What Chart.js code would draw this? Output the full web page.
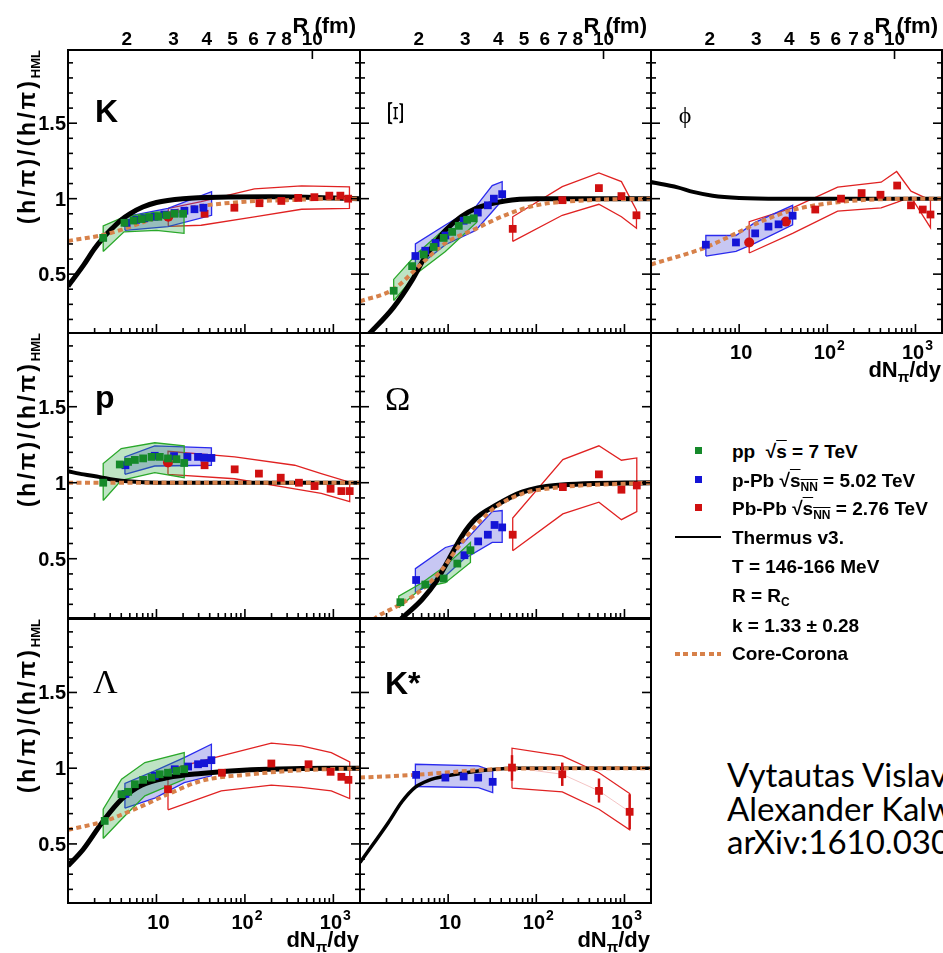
<!DOCTYPE html>
<html>
<head>
<meta charset="utf-8">
<title>h/pi double ratios vs dN/dy</title>
<script src="https://cdn.jsdelivr.net/npm/chart.js@4.4.1/dist/chart.umd.min.js"></script>
<style>
html,body{margin:0;padding:0;background:#fff;}
#wrap{position:relative;width:943px;height:953px;overflow:hidden;background:#fff;font-family:"Liberation Sans",Arial,sans-serif;color:#000;}
#wrap canvas{position:absolute;}
.ytitle{position:absolute;left:14px;width:230px;height:26px;text-align:right;font-weight:bold;font-size:23px;line-height:26px;letter-spacing:3px;white-space:nowrap;transform-origin:0 0;transform:rotate(-90deg);}
.ytitle sub{font-size:13px;letter-spacing:0;vertical-align:-5px;}
.plab{position:absolute;line-height:1;white-space:nowrap;}
.sans{font-family:"Liberation Sans",Arial,sans-serif;font-weight:bold;font-size:32px;}
.serif{font-family:"Liberation Serif","DejaVu Serif",serif;}
.leg{position:absolute;left:732px;font-weight:bold;font-size:19px;line-height:1;white-space:nowrap;}
.leg sub{font-size:12px;vertical-align:-4px;}
.ov{text-decoration:overline;}
.mk{position:absolute;width:7px;height:7px;}
.authors{position:absolute;left:727px;top:758px;font-family:Lato,"Open Sans",sans-serif;font-size:33px;line-height:33.5px;white-space:nowrap;}
</style>
</head>
<body>
<div id="wrap">

<div class="ytitle" style="top:280px">(h/π)/(h/π)<sub>HML</sub></div>
<div class="ytitle" style="top:563px">(h/π)/(h/π)<sub>HML</sub></div>
<div class="ytitle" style="top:849px">(h/π)/(h/π)<sub>HML</sub></div>

<div class="plab sans" style="left:95px;top:95px">K</div>
<div class="plab serif" style="left:375px;top:93px;width:40px;height:40px;line-height:40px;text-align:center;font-size:23px;transform:rotate(90deg) scaleX(1.8)">Ξ</div>
<div class="plab serif" style="left:665px;top:95px;width:40px;line-height:40px;text-align:center;font-size:24px">ϕ</div>
<div class="plab sans" style="left:95px;top:381px">p</div>
<div class="plab serif" style="left:385px;top:382px;font-size:34px">Ω</div>
<div class="plab serif" style="left:93px;top:665px;font-size:34px">Λ</div>
<div class="plab sans" style="left:385px;top:667px">K*</div>

<div class="mk" style="left:695px;top:447px;background:#15892a"></div>
<div class="mk" style="left:695px;top:476px;background:#1414d6"></div>
<div class="mk" style="left:695px;top:504px;background:#d01010"></div>
<div style="position:absolute;left:675px;top:536px;width:46px;height:2px;background:#000"></div>
<div style="position:absolute;left:675px;top:652px;width:46px;height:3.5px;background:repeating-linear-gradient(90deg,#d7814a 0 5px,transparent 5px 8.5px)"></div>
<div class="leg" style="top:442px">pp&nbsp; √<span class="ov">s</span> = 7 TeV</div>
<div class="leg" style="top:471px">p-Pb √<span class="ov">s<sub>NN</sub></span> = 5.02 TeV</div>
<div class="leg" style="top:499px">Pb-Pb √<span class="ov">s<sub>NN</sub></span> = 2.76 TeV</div>
<div class="leg" style="top:528px">Thermus v3.</div>
<div class="leg" style="top:557px">T = 146-166 MeV</div>
<div class="leg" style="top:586px">R = R<sub>C</sub></div>
<div class="leg" style="top:616px">k = 1.33 ± 0.28</div>
<div class="leg" style="top:644px">Core-Corona</div>

<div class="authors">Vytautas Vislavicius<br>Alexander Kalweit<br>arXiv:1610.03001</div>

</div>
<script>
// axis ranges and ticks
const X_MIN = 1, X_MAX = 2000;
const Y_MIN = 0.11, Y_MAX = 1.985;
const yTickLabels = [0.5, 1, 1.5];
const xTickValues = [10, 100, 1000];
const xTickBase = ['10', '10', '10'];
const xTickExp = ['', '2', '3'];
const rTicks = [2, 3, 4, 5, 6, 7, 8, 10];
const R_SCALE = 1.2; // R = R_SCALE * (dN/dy)^(1/3)

// ---- K ----
const kThermusX = [1, 1.5, 2, 2.5, 3, 4, 5, 7, 10, 20, 50, 200, 1000, 2000];
const kThermusY = [0.42, 0.56, 0.67, 0.74, 0.79, 0.86, 0.9, 0.945, 0.975, 1.0, 1.01, 1.012, 1.005, 1.0];
const kCoreX = [1, 2.5, 4.3, 9.5, 20, 100, 300, 1000, 2000];
const kCoreY = [0.72, 0.76, 0.8, 0.87, 0.93, 0.98, 0.99, 1.0, 1.0];
const kPpX = [2.5, 4.35, 5.5, 6.8, 8.3, 10.5, 13, 16, 20];
const kPpY = [0.74, 0.84, 0.855, 0.865, 0.875, 0.88, 0.89, 0.9, 0.9];
const kPpBandX = [2.5, 4.3, 10, 20.5];
const kPpBandLo = [0.65, 0.78, 0.79, 0.77];
const kPpBandHi = [0.82, 0.88, 0.91, 0.915];
const kPpbX = [4.6, 5.9, 7.3, 9.5, 12.3, 16, 20.7, 26.9, 34];
const kPpbY = [0.84, 0.86, 0.87, 0.88, 0.895, 0.905, 0.92, 0.93, 0.94];
const kPpbBandX = [4.4, 13.5, 42];
const kPpbBandLo = [0.79, 0.815, 0.89];
const kPpbBandHi = [0.88, 0.935, 1.046];
const kPbX = [35, 76, 146, 258, 400, 610, 900, 1200, 1470];
const kPbY = [0.9, 0.94, 0.97, 0.985, 1.005, 1.01, 1.02, 1.02, 1.0];
const kPbCircX = [13.6];
const kPbCircY = [0.88];
const kPbBandX = [13.6, 32, 128, 437, 1520];
const kPbBandLo = [0.817, 0.824, 0.88, 0.93, 0.935];
const kPbBandHi = [0.935, 0.98, 1.065, 1.085, 1.078];

// ---- Xi ----
const xiThermusX = [1, 1.25, 2.4, 3.9, 5.3, 7.2, 9.3, 14, 20.5, 44, 100, 2000];
const xiThermusY = [0.04, 0.1, 0.28, 0.46, 0.6, 0.71, 0.79, 0.88, 0.935, 0.985, 1.0, 1.0];
const xiCoreX = [1, 2.4, 4.9, 9.3, 20.5, 44, 100, 393, 2000];
const xiCoreY = [0.32, 0.4, 0.565, 0.706, 0.8, 0.89, 0.956, 0.99, 1.0];
const xiPpX = [2.41, 3.9, 5.3, 6.85, 8.9, 11.1, 13.2, 16.4, 19.5];
const xiPpY = [0.39, 0.553, 0.63, 0.68, 0.74, 0.78, 0.82, 0.86, 0.87];
const xiPpBandX = [2.41, 4.5, 9.3, 21];
const xiPpBandLo = [0.325, 0.51, 0.65, 0.843];
const xiPpBandHi = [0.465, 0.64, 0.804, 0.935];
const xiPpbX = [4.25, 5.5, 7.2, 9.3, 15, 21.7, 28.2, 33, 41];
const xiPpbY = [0.62, 0.655, 0.706, 0.756, 0.854, 0.908, 0.956, 1.0, 1.03];
const xiPpbBandX = [4.25, 9.3, 20.5, 31.6, 41];
const xiPpbBandLo = [0.538, 0.695, 0.79, 0.913, 0.99];
const xiPpbBandHi = [0.7, 0.826, 0.946, 1.087, 1.113];
const xiPbX = [54, 197, 513, 924, 1368];
const xiPbY = [0.8, 0.99, 1.07, 1.017, 0.89];
const xiPbBandX = [54, 197, 513, 924, 1368];
const xiPbBandLo = [0.717, 0.89, 0.963, 0.88, 0.804];
const xiPbBandHi = [0.88, 1.08, 1.17, 1.113, 0.924];

// ---- phi ----
const phiThermusX = [1, 2, 3, 5, 10, 30, 2000];
const phiThermusY = [1.11, 1.075, 1.045, 1.02, 1.005, 1.0, 1.0];
const phiCoreX = [1, 4.19, 9.2, 19.3, 40.4, 96.5, 400, 2000];
const phiCoreY = [0.564, 0.678, 0.77, 0.858, 0.924, 0.967, 0.996, 1.0];
const phiPpbX = [4.19, 9.2, 15.2, 21.5, 28, 40.4];
const phiPpbY = [0.695, 0.71, 0.77, 0.815, 0.83, 0.887];
const phiPpbBandX = [4.19, 9.2, 15.2, 40.4];
const phiPpbBandLo = [0.62, 0.651, 0.706, 0.826];
const phiPpbBandHi = [0.756, 0.756, 0.843, 0.956];
const phiPbX = [73, 143, 245, 401, 620, 890, 1210, 1480];
const phiPbY = [0.928, 1.0, 1.037, 1.026, 1.087, 0.956, 0.928, 0.895];
const phiPbCircX = [13, 33.9];
const phiPbCircY = [0.71, 0.848];
const phiPbBandX = [13, 40.4, 131, 408, 612, 890, 1480];
const phiPbBandLo = [0.64, 0.77, 0.917, 0.939, 0.975, 1.011, 0.808];
const phiPbBandHi = [0.848, 0.939, 1.076, 1.109, 1.18, 1.05, 0.99];

// ---- p ----
const pThermusX = [1, 1.5, 2.3, 3.3, 4.7, 10, 2000];
const pThermusY = [1.075, 1.055, 1.037, 1.02, 1.009, 1.0, 1.0];
const pCoreX = [1, 10, 100, 2000];
const pCoreY = [1.0, 1.0, 1.0, 1.0];
const pPpX = [2.5, 3.85, 4.78, 5.7, 7.07, 8.8, 10.9, 13.5, 16.8, 20.6];
const pPpY = [1.0, 1.12, 1.137, 1.15, 1.16, 1.17, 1.17, 1.16, 1.155, 1.13];
const pPpBandX = [2.5, 4.0, 9.56, 20.6];
const pPpBandLo = [0.883, 1.016, 1.066, 1.033];
const pPpBandHi = [1.126, 1.225, 1.263, 1.243];
const pPpbX = [4.46, 9.56, 15.8, 22.4, 29.5, 34.6, 41.8];
const pPpbY = [1.115, 1.177, 1.175, 1.17, 1.17, 1.165, 1.163];
const pPpbBandX = [4.4, 9.56, 41.8];
const pPpbBandLo = [1.055, 1.11, 1.115];
const pPpbBandHi = [1.17, 1.243, 1.23];
const pPbX = [35, 76.6, 144, 254, 408, 613, 930, 1232, 1530];
const pPbY = [1.115, 1.088, 1.06, 1.033, 1.0, 0.978, 0.96, 0.945, 0.945];
const pPbCircX = [13.5];
const pPbCircY = [1.133];
const pPbBandX = [13.5, 76.6, 365, 730, 1530];
const pPbBandLo = [1.055, 1.026, 0.96, 0.93, 0.876];
const pPbBandHi = [1.207, 1.17, 1.115, 1.06, 1.004];

// ---- Omega ----
const omThermusX = [2.4, 2.87, 5.06, 7.17, 10.2, 14.4, 20.4, 34.5, 69, 165, 2000];
const omThermusY = [0.06, 0.1, 0.232, 0.342, 0.497, 0.651, 0.762, 0.85, 0.938, 0.982, 1.0];
const omCoreX = [1.2, 1.49, 2.87, 5.06, 8.55, 12.1, 22.3, 34.5, 69, 165, 2000];
const omCoreY = [0.06, 0.11, 0.2, 0.298, 0.43, 0.552, 0.74, 0.84, 0.927, 0.967, 1.0];
const omPpX = [2.87, 5.5, 8.9, 12.7, 17.9];
const omPpY = [0.214, 0.33, 0.37, 0.468, 0.556];
const omPpBandX = [2.75, 5.06, 9.3, 17.9];
const omPpBandLo = [0.177, 0.31, 0.342, 0.475];
const omPpBandHi = [0.254, 0.342, 0.452, 0.607];
const omPpbX = [4.33, 15.3, 21.9, 28.2, 33.6, 41];
const omPpbY = [0.36, 0.523, 0.614, 0.658, 0.722, 0.706];
const omPpbBandX = [4.25, 9.3, 15, 31.6, 41];
const omPpbBandLo = [0.276, 0.386, 0.497, 0.607, 0.607];
const omPpbBandHi = [0.435, 0.574, 0.607, 0.81, 0.817];
const omPbX = [54, 200, 513, 924, 1380];
const omPbY = [0.658, 0.971, 1.055, 0.954, 0.982];
const omPbBandX = [54, 200, 513, 924, 1380];
const omPbBandLo = [0.552, 0.795, 0.872, 0.757, 0.81];
const omPbBandHi = [0.768, 1.152, 1.243, 1.148, 1.163];

// ---- Lambda ----
const laThermusX = [1, 1.49, 2.5, 4.03, 6.77, 13.5, 32, 118, 436, 1030, 2000];
const laThermusY = [0.355, 0.465, 0.652, 0.795, 0.888, 0.938, 0.965, 0.99, 0.998, 1.0, 1.0];
const laCoreX = [1, 2.5, 5.7, 13.5, 32, 118, 436, 2000];
const laCoreY = [0.593, 0.648, 0.73, 0.828, 0.916, 0.96, 0.987, 0.998];
const laPpX = [2.6, 4.03, 4.79, 5.7, 7.07, 8.8, 10.9, 13.5, 16.8, 20.6];
const laPpY = [0.652, 0.828, 0.844, 0.894, 0.923, 0.938, 0.96, 0.97, 0.982, 0.993];
const laPpBandX = [2.5, 4.03, 7.4, 20.6];
const laPpBandLo = [0.536, 0.663, 0.817, 0.927];
const laPpBandHi = [0.73, 0.927, 1.037, 1.103];
const laPpbX = [4.46, 9.56, 16.1, 22.8, 29.5, 34.6, 41.8];
const laPpbY = [0.83, 0.95, 0.993, 1.011, 1.026, 1.033, 1.053];
const laPpbBandX = [4.4, 9.56, 20.6, 41.8];
const laPpbBandLo = [0.736, 0.802, 0.905, 0.95];
const laPpbBandHi = [0.9, 0.982, 1.07, 1.158];
const laPbX = [13.5, 55, 199, 524, 930, 1232, 1480];
const laPbY = [0.861, 0.97, 1.031, 1.026, 0.976, 0.943, 0.923];
const laPbBandX = [13.5, 54, 199, 436, 947, 1530];
const laPbBandLo = [0.725, 0.85, 0.888, 0.873, 0.85, 0.8];
const laPbBandHi = [0.989, 1.081, 1.165, 1.147, 1.103, 1.042];

// ---- K* ----
const ksThermusX = [1, 2.1, 3, 4.25, 6, 9.3, 22, 53, 2000];
const ksThermusY = [0.377, 0.642, 0.78, 0.875, 0.92, 0.948, 0.982, 1.0, 1.0];
const ksCoreX = [1, 4.25, 22, 60, 2000];
const ksCoreY = [0.938, 0.956, 0.987, 0.998, 1.0];
const ksPpbX = [4.33, 9.3, 15, 21.9, 32];
const ksPpbY = [0.956, 0.938, 0.945, 0.938, 0.91];
const ksPpbBandX = [4.25, 22, 32];
const ksPpbBandLo = [0.879, 0.872, 0.839];
const ksPpbBandHi = [1.026, 1.015, 0.982];
const ksPbX = [53, 197, 514, 1145];
const ksPbY = [1.004, 0.96, 0.85, 0.712];
const ksPbErrLo = [0.917, 0.883, 0.773, 0.597];
const ksPbErrHi = [1.086, 1.037, 0.932, 0.828];
const ksPbBandX = [53, 197, 514, 1145];
const ksPbBandLo = [0.868, 0.844, 0.729, 0.593];
const ksPbBandHi = [1.132, 1.081, 0.97, 0.833];

// colours
const C_PP = '#15892a', C_PPB = '#1414d6', C_PB = '#d01010', C_CORE = '#d7814a';
const L_PP = '#2aa82a', L_PPB = '#2a2aee', L_PB = '#e02222';
const F_PP = 'rgba(40,165,60,0.3)', F_PPB = 'rgba(70,70,215,0.3)';

// panel boxes
const COL_LEFT = [68, 360, 651], COL_RIGHT = [360, 651, 942];
const ROW_TOP = [50, 333, 619], ROW_BOTTOM = [333, 618, 903];
const M = 60;

const panels = [
  {col: 0, row: 0, yLabels: true, rAxis: true, tw: 5,
   thermus: [kThermusX, kThermusY], core: [kCoreX, kCoreY],
   pp: [kPpX, kPpY], ppBand: [kPpBandX, kPpBandLo, kPpBandHi],
   ppb: [kPpbX, kPpbY], ppbBand: [kPpbBandX, kPpbBandLo, kPpbBandHi],
   pb: [kPbX, kPbY], pbCirc: [kPbCircX, kPbCircY], pbBand: [kPbBandX, kPbBandLo, kPbBandHi]},
  {col: 1, row: 0, rAxis: true, tw: 5,
   thermus: [xiThermusX, xiThermusY], core: [xiCoreX, xiCoreY],
   pp: [xiPpX, xiPpY], ppBand: [xiPpBandX, xiPpBandLo, xiPpBandHi],
   ppb: [xiPpbX, xiPpbY], ppbBand: [xiPpbBandX, xiPpbBandLo, xiPpbBandHi],
   pb: [xiPbX, xiPbY], pbBand: [xiPbBandX, xiPbBandLo, xiPbBandHi]},
  {col: 2, row: 0, rAxis: true, xLabels: true, tw: 4,
   thermus: [phiThermusX, phiThermusY], core: [phiCoreX, phiCoreY],
   ppb: [phiPpbX, phiPpbY], ppbBand: [phiPpbBandX, phiPpbBandLo, phiPpbBandHi],
   pb: [phiPbX, phiPbY], pbCirc: [phiPbCircX, phiPbCircY], pbBand: [phiPbBandX, phiPbBandLo, phiPbBandHi]},
  {col: 0, row: 1, yLabels: true, tw: 4,
   thermus: [pThermusX, pThermusY], core: [pCoreX, pCoreY],
   pp: [pPpX, pPpY], ppBand: [pPpBandX, pPpBandLo, pPpBandHi],
   ppb: [pPpbX, pPpbY], ppbBand: [pPpbBandX, pPpbBandLo, pPpbBandHi],
   pb: [pPbX, pPbY], pbCirc: [pPbCircX, pPbCircY], pbBand: [pPbBandX, pPbBandLo, pPbBandHi]},
  {col: 1, row: 1, tw: 5,
   thermus: [omThermusX, omThermusY], core: [omCoreX, omCoreY],
   pp: [omPpX, omPpY], ppBand: [omPpBandX, omPpBandLo, omPpBandHi],
   ppb: [omPpbX, omPpbY], ppbBand: [omPpbBandX, omPpbBandLo, omPpbBandHi],
   pb: [omPbX, omPbY], pbBand: [omPbBandX, omPbBandLo, omPbBandHi]},
  {col: 0, row: 2, yLabels: true, xLabels: true, tw: 5,
   thermus: [laThermusX, laThermusY], core: [laCoreX, laCoreY],
   pp: [laPpX, laPpY], ppBand: [laPpBandX, laPpBandLo, laPpBandHi],
   ppb: [laPpbX, laPpbY], ppbBand: [laPpbBandX, laPpbBandLo, laPpbBandHi],
   pb: [laPbX, laPbY], pbBand: [laPbBandX, laPbBandLo, laPbBandHi]},
  {col: 1, row: 2, xLabels: true, tw: 3.5,
   thermus: [ksThermusX, ksThermusY], core: [ksCoreX, ksCoreY],
   ppb: [ksPpbX, ksPpbY], ppbBand: [ksPpbBandX, ksPpbBandLo, ksPpbBandHi],
   pb: [ksPbX, ksPbY], pbErr: [ksPbErrLo, ksPbErrHi], pbLink: true,
   pbBand: [ksPbBandX, ksPbBandLo, ksPbBandHi]}
];

function pts(xs, ys) {
  return xs.map((x, i) => ({x: x, y: ys[i]}));
}

function poly(xs, lo, hi) {
  const out = xs.map((x, i) => ({x: x, y: lo[i]}));
  for (let i = xs.length - 1; i >= 0; i--) out.push({x: xs[i], y: hi[i]});
  out.push({x: xs[0], y: lo[0]});
  return out;
}

function markers(s, color, style, r) {
  return {data: pts(s[0], s[1]), showLine: false, pointStyle: style, pointRadius: r,
    pointBackgroundColor: color, pointBorderWidth: 0, order: 0, clip: 0};
}

function curve(s, color, width, dash, order) {
  return {data: pts(s[0], s[1]), showLine: true, borderColor: color, borderWidth: width,
    borderDash: dash, borderCapStyle: 'butt', cubicInterpolationMode: 'monotone',
    pointRadius: 0, fill: false, order: order, clip: 0};
}

function band(b, line, fillc) {
  return {data: poly(b[0], b[1], b[2]), showLine: true, borderColor: line, borderWidth: 1.3,
    backgroundColor: fillc || 'rgba(0,0,0,0)', fill: fillc ? 'shape' : false,
    tension: 0, pointRadius: 0, order: 3, clip: 0};
}

function buildDatasets(p) {
  const ds = [];
  if (p.pp) ds.push(markers(p.pp, C_PP, 'rect', 5.5));
  if (p.ppb) ds.push(markers(p.ppb, C_PPB, 'rect', 5.5));
  if (p.pb) ds.push(markers(p.pb, C_PB, 'rect', 5.5));
  if (p.pbCirc) ds.push(markers(p.pbCirc, C_PB, 'circle', 5));
  if (p.pbErr) {
    p.pb[0].forEach((xv, i) => {
      ds.push({data: [{x: xv, y: p.pbErr[0][i]}, {x: xv, y: p.pbErr[1][i]}], showLine: true,
        borderColor: C_PB, borderWidth: 2.5, pointRadius: 0, order: 0, clip: 0});
    });
  }
  if (p.pbLink) {
    ds.push({data: pts(p.pb[0], p.pb[1]), showLine: true, borderColor: 'rgba(220,60,60,0.3)',
      borderWidth: 1, pointRadius: 0, order: 2, clip: 0});
  }
  ds.push(curve(p.core, C_CORE, 4, [5, 3.5], 1));
  ds.push(curve(p.thermus, '#000', p.tw, [], 2));
  if (p.ppBand) ds.push(band(p.ppBand, L_PP, F_PP));
  if (p.ppbBand) ds.push(band(p.ppbBand, L_PPB, F_PPB));
  if (p.pbBand) ds.push(band(p.pbBand, L_PB, null));
  return ds;
}

function seg(ctx, x1, y1, x2, y2) {
  ctx.beginPath();
  ctx.moveTo(x1, y1);
  ctx.lineTo(x2, y2);
  ctx.stroke();
}

function rToDn(r) {
  return Math.pow(r / R_SCALE, 3);
}

// frame with inward ticks, labels (ROOT-like)
const axesFrame = {
  id: 'axesFrame',
  afterDatasetsDraw(chart, args, o) {
    const ctx = chart.ctx, a = chart.chartArea;
    const x = chart.scales.x, y = chart.scales.y;
    ctx.save();
    ctx.strokeStyle = '#000';
    ctx.fillStyle = '#000';
    ctx.lineWidth = 1.6;
    for (let i = 2; i <= 19; i++) {
      const py = y.getPixelForValue(i / 10);
      const len = i % 5 === 0 ? 9 : 5;
      seg(ctx, a.left, py, a.left + len, py);
      seg(ctx, a.right, py, a.right - len, py);
    }
    for (let e = 0; e <= 3; e++) {
      for (let d = 1; d <= 9; d++) {
        const v = d * Math.pow(10, e);
        if (v <= X_MIN || v >= X_MAX) continue;
        const px = x.getPixelForValue(v);
        seg(ctx, px, a.bottom, px, a.bottom - (d === 1 ? 9 : 5));
      }
    }
    if (o.rAxis) {
      const px = x.getPixelForValue(rToDn(10));
      seg(ctx, px, a.top, px, a.top + 9);
    }
    ctx.lineWidth = 2;
    ctx.strokeRect(a.left, a.top, a.right - a.left, a.bottom - a.top);

    ctx.textBaseline = 'alphabetic';
    if (o.yLabels) {
      ctx.font = 'bold 20px "Liberation Sans"';
      ctx.textAlign = 'right';
      yTickLabels.forEach(v => ctx.fillText(String(v), a.left - 2, y.getPixelForValue(v) + 7));
    }
    if (o.xLabels) {
      ctx.textAlign = 'left';
      xTickValues.forEach((v, i) => {
        ctx.font = 'bold 20px "Liberation Sans"';
        const wb = ctx.measureText(xTickBase[i]).width;
        ctx.font = 'bold 14px "Liberation Sans"';
        const we = xTickExp[i] ? ctx.measureText(xTickExp[i]).width + 1 : 0;
        const x0 = x.getPixelForValue(v) - (wb + we) / 2 + 2;
        ctx.font = 'bold 20px "Liberation Sans"';
        ctx.fillText(xTickBase[i], x0, a.bottom + 26);
        if (xTickExp[i]) {
          ctx.font = 'bold 14px "Liberation Sans"';
          ctx.fillText(xTickExp[i], x0 + wb + 1, a.bottom + 17);
        }
      });
      const big = 'bold 22px "Liberation Sans"', small = 'bold 15px "Liberation Sans"';
      ctx.font = big;
      const w1 = ctx.measureText('dN').width, w3 = ctx.measureText('/dy').width;
      ctx.font = small;
      const w2 = ctx.measureText('π').width;
      const x0 = a.right - 1 - (w1 + w2 + w3);
      const base = a.bottom + 44;
      ctx.font = big;
      ctx.fillText('dN', x0, base);
      ctx.font = small;
      ctx.fillText('π', x0 + w1, base + 5);
      ctx.font = big;
      ctx.fillText('/dy', x0 + w1 + w2, base);
    }
    if (o.rAxis) {
      ctx.font = 'bold 19px "Liberation Sans"';
      ctx.textAlign = 'center';
      rTicks.forEach(r => ctx.fillText(String(r), x.getPixelForValue(rToDn(r)), a.top - 5));
      ctx.font = 'bold 22px "Liberation Sans"';
      ctx.textAlign = 'right';
      ctx.fillText('R (fm)', a.right - 4, a.top - 17);
    }
    ctx.restore();
  }
};

const wrap = document.getElementById('wrap');
const firstLabel = wrap.querySelector('.ytitle');

panels.forEach(p => {
  const L = COL_LEFT[p.col], R = COL_RIGHT[p.col];
  const T = ROW_TOP[p.row], B = ROW_BOTTOM[p.row];
  const w = R - L + 2 * M, h = B - T + 2 * M;
  const cv = document.createElement('canvas');
  cv.width = w;
  cv.height = h;
  cv.style.left = (L - M) + 'px';
  cv.style.top = (T - M) + 'px';
  cv.style.width = w + 'px';
  cv.style.height = h + 'px';
  wrap.insertBefore(cv, firstLabel);

  new Chart(cv, {
    type: 'scatter',
    data: {datasets: buildDatasets(p)},
    options: {
      responsive: false,
      animation: false,
      devicePixelRatio: 1,
      events: [],
      layout: {padding: M},
      plugins: {
        legend: {display: false},
        tooltip: {enabled: false},
        axesFrame: {yLabels: !!p.yLabels, xLabels: !!p.xLabels, rAxis: !!p.rAxis}
      },
      scales: {
        x: {type: 'logarithmic', min: X_MIN, max: X_MAX, display: false},
        y: {type: 'linear', min: Y_MIN, max: Y_MAX, display: false}
      }
    },
    plugins: [axesFrame]
  });
});
</script>
</body>
</html>
